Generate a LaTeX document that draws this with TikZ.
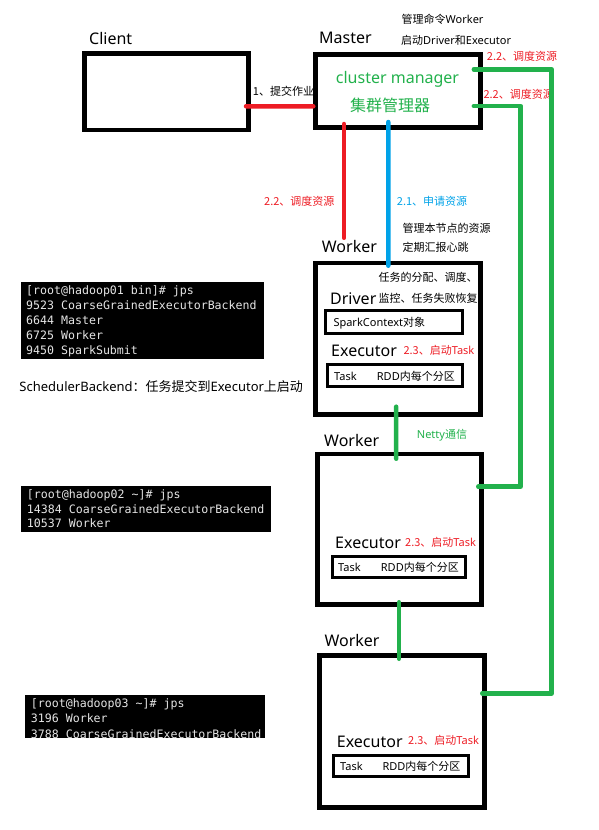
\documentclass[tikz,border=0pt]{standalone}
\usepackage{fontspec}
\setmainfont{Noto Sans}
\newfontfamily\cjk{Noto Sans CJK SC}
\newfontfamily\termfont{DejaVu Sans Mono}
\usetikzlibrary{positioning}

\definecolor{pred}{HTML}{ED1C24}
\definecolor{pgreen}{HTML}{22B14C}
\definecolor{pblue}{HTML}{00A2E8}

\begin{document}
\begin{tikzpicture}[
  x=1pt, y=-1pt,
  box/.style={draw=black, line width=4.7pt, inner sep=0pt},
  subbox/.style={draw=black, line width=3pt, inner sep=0pt},
  term/.style={fill=black, inner sep=0pt},
  lbl/.style={anchor=west, inner sep=0pt},
  big/.style={lbl, text height=14pt, text depth=2pt, font=\fontsize{16}{19}\selectfont},
  small/.style={lbl, text height=9.7pt, text depth=1.3pt, font=\fontsize{11}{13}\selectfont},
  sched/.style={lbl, text height=11.4pt, text depth=1.6pt, font=\fontsize{13}{15}\selectfont},
  termline/.style={lbl, text height=10.2pt, text depth=1.4pt, text=white!90!black, font=\termfont\fontsize{11.6}{14}\selectfont},
  wire/.style={line width=4.5pt, line cap=round, line join=round},
  redline/.style={wire, draw=pred},
  greenline/.style={wire, draw=pgreen},
  blueline/.style={wire, draw=pblue}]

\useasboundingbox (0,0) rectangle (598,830);

\node[box, minimum width=164.3pt, minimum height=76.6pt] (client) at (166.5,91.65) {};
\node[box, minimum width=164.7pt, minimum height=73.3pt] (master) at (398,91) {};
\node[box, minimum width=165pt, minimum height=151.3pt] (w1) at (398.15,338.7) {};
\node[box, minimum width=164.3pt, minimum height=150.6pt] (w2) at (399.5,529.35) {};
\node[box, minimum width=164.7pt, minimum height=152pt] (w3) at (402,731.65) {};

\node[subbox, minimum width=137pt, minimum height=23pt] (sc) at (394,322.3) {};
\node[subbox, minimum width=135pt, minimum height=22pt] (task1) at (395,375.2) {};
\node[subbox, minimum width=133.6pt, minimum height=21pt] (task2) at (399,567.3) {};
\node[subbox, minimum width=134.7pt, minimum height=21pt] (task3) at (401.15,766.3) {};

\node[term, minimum width=243.3pt, minimum height=77.3pt] (jps1) at (142.35,320.35) {};
\node[term, minimum width=250pt, minimum height=45.7pt] (jps2) at (145.7,508.85) {};
\node[term, minimum width=240pt, minimum height=43.3pt] (jps3) at (145,716.65) {};

\foreach \line [count=\i from 0] in {{[root@hadoop01 bin]\# jps},{9523 CoarseGrainedExecutorBackend},{6644 Master},{6725 Worker},{9450 SparkSubmit}}
  \node[termline] (jps1l\i) at (26,{290+15*\i}) {\line};
\foreach \line [count=\i from 0] in {{[root@hadoop02 \textasciitilde]\# jps},{14384 CoarseGrainedExecutorBackend},{10537 Worker}}
  \node[termline] (jps2l\i) at (26.7,{494+14.7*\i}) {\line};
\foreach \line [count=\i from 0] in {{[root@hadoop03 \textasciitilde]\# jps},{3196 Worker},{3788 CoarseGrainedExecutorBackend}}
  \node[termline] (jps3l\i) at (30.7,{702.7+15.6*\i}) {\line};

\node[big] (clientlbl) at (89,38) {Client};
\node[big] (masterlbl) at (319,37) {Master};
\node[small] (cmd1) at (401.5,19) {{\cjk 管理命令}Worker};
\node[small] (cmd2) at (401,40) {{\cjk 启动}Driver{\cjk 和}Executor};
\node[big, text=pgreen] (cm) at (335.7,77.3) {cluster manager};
\node[big, text=pgreen] (cmzh) at (350,105) {\cjk 集群管理器};
\node[small] (submit) at (252.7,91.7) {\cjk 1、提交作业};
\node[small, text=pred] (sched1) at (486.7,56.7) {\cjk 2.2、调度资源};
\node[small, text=pred] (sched2) at (483.3,94) {\cjk 2.2、调度资源};
\node[small, text=pred] (sched3) at (264,201.7) {\cjk 2.2、调度资源};
\node[small, text=pblue] (req) at (396.7,201) {\cjk 2.1、申请资源};
\node[small] (mng1) at (402.3,228.3) {\cjk 管理本节点的资源};
\node[small] (mng2) at (402.3,247.7) {\cjk 定期汇报心跳};

\node[big] (w1lbl) at (321.7,246) {Worker};
\node[small] (drv1) at (378.3,277.3) {\cjk 任务的分配、调度、};
\node[small] (drv2) at (378.3,298.3) {\cjk 监控、任务失败恢复};
\node[big] (drvlbl) at (330,298.3) {Driver};
\node[small] (sclbl) at (333.3,322.3) {SparkContext{\cjk 对象}};
\node[big] (ex1) at (331,350) {Executor};
\node[small, text=pred] (launch1) at (403.3,350) {{\cjk 2.3、启动}Task};
\node[small] (tk1) at (334,376) {Task};
\node[small] (rdd1) at (376.7,376) {RDD{\cjk 内每个分区}};

\node[sched] (backend) at (19.3,386.7) {SchedulerBackend{\cjk ：任务提交到}Executor{\cjk 上启动}};
\node[small, text=pgreen] (netty) at (416.7,434) {Netty{\cjk 通信}};

\node[big] (w2lbl) at (324,440) {Worker};
\node[big] (ex2) at (335,542.7) {Executor};
\node[small, text=pred] (launch2) at (405,542) {{\cjk 2.3、启动}Task};
\node[small] (tk2) at (338,567.7) {Task};
\node[small] (rdd2) at (380.7,567.7) {RDD{\cjk 内每个分区}};

\node[big] (w3lbl) at (324.3,640) {Worker};
\node[big] (ex3) at (336.7,741) {Executor};
\node[small, text=pred] (launch3) at (408,740) {{\cjk 2.3、启动}Task};
\node[small] (tk3) at (340,766.7) {Task};
\node[small] (rdd3) at (382.3,766.7) {RDD{\cjk 内每个分区}};

\coordinate (r2a) at ([shift={(-54pt,6pt)}]master.south);
\coordinate (bus1) at (551.7,0);
\coordinate (bus2) at (520.7,0);
\coordinate (g1a) at ([shift={(-8.85pt,21.7pt)}]master.east);
\coordinate (g1b) at ([shift={(-4.45pt,38.35pt)}]w3.east);
\coordinate (g2a) at ([shift={(-8.85pt,-15pt)}]master.east);
\coordinate (g2b) at ([shift={(-5.75pt,42.65pt)}]w2.east);

\draw[redline] ([shift={(-5pt,-14.6pt)}]client.east) -- ([yshift=-15.3pt]master.west);
\draw[redline] (r2a) -- (r2a |- w1lbl.north);
\draw[blueline] ([shift={(-9.7pt,8pt)}]master.south) -- ([shift={(-9.85pt,-5pt)}]w1.north);
\draw[greenline] ([shift={(-2pt,10pt)}]w1.south) -- ([shift={(-3.3pt,-7pt)}]w2.north);
\draw[greenline] ([shift={(-0.5pt,4.75pt)}]w2.south) -- ([shift={(-3pt,-5.45pt)}]w3.north);
\draw[greenline] (g1a) -| (g1b -| bus1) -- (g1b);
\draw[greenline] (g2a) -| (g2b -| bus2) -- (g2b);

\end{tikzpicture}
\end{document}
